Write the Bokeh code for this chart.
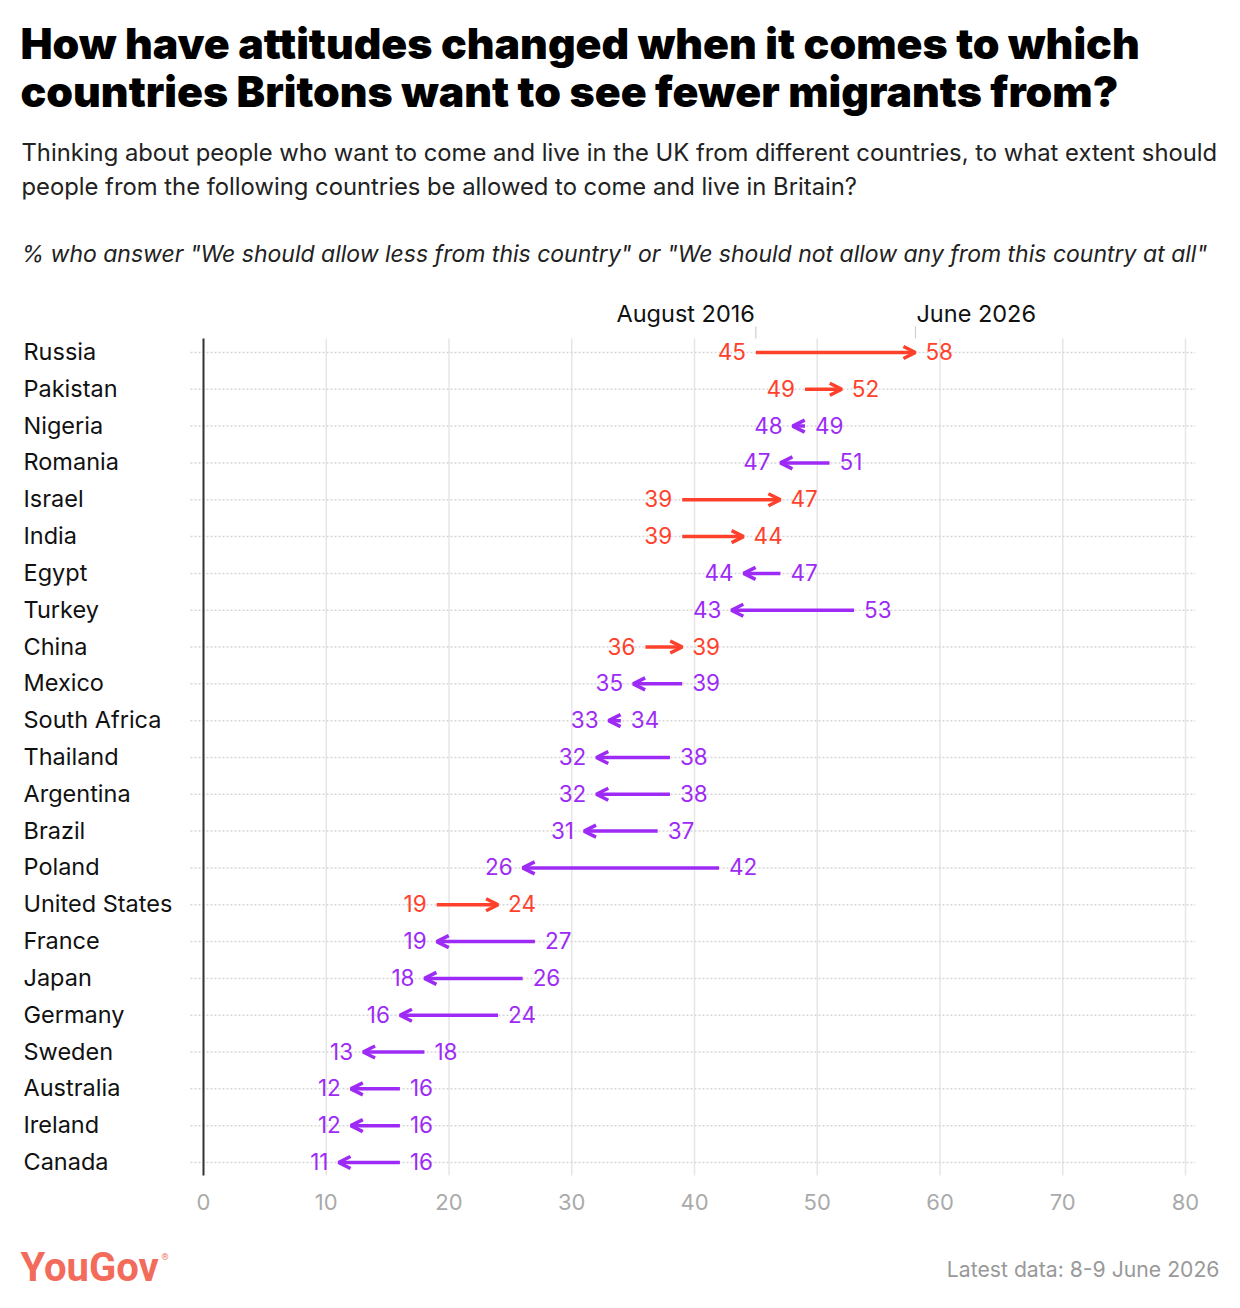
from bokeh.plotting import figure
from bokeh.models import ColumnDataSource, Arrow, OpenHead, LabelSet, Label, BoxAnnotation, Range1d
from bokeh.core.properties import value
from bokeh.embed import file_html
from bokeh.resources import INLINE

# data
countries = ["Russia", "Pakistan", "Nigeria", "Romania", "Israel", "India", "Egypt", "Turkey",
             "China", "Mexico", "South Africa", "Thailand", "Argentina", "Brazil", "Poland",
             "United States", "France", "Japan", "Germany", "Sweden", "Australia", "Ireland", "Canada"]
aug_2016 = [45, 49, 49, 51, 39, 39, 47, 53, 36, 39, 34, 38, 38, 37, 42, 19, 27, 26, 24, 18, 16, 16, 16]
jun_2026 = [58, 52, 48, 47, 47, 44, 44, 43, 39, 35, 33, 32, 32, 31, 26, 24, 19, 18, 16, 13, 12, 12, 11]
x_ticks = [0, 10, 20, 30, 40, 50, 60, 70, 80]

RED = "#ff412c"
PURPLE = "#9d2bf5"
FONT = "Inter"
W, H = 1240, 1308

n = len(countries)
rows = [n - 1 - i for i in range(n)]
y_lo, y_hi = min(rows) - 0.35, max(rows) + 0.38
x_lo, x_hi = -1.06, max(x_ticks) + 0.81

up = {"start": [], "end": [], "y": []}
down = {"start": [], "end": [], "y": []}
labels = {"y": [], "lo": [], "hi": [], "lo_txt": [], "hi_txt": [], "color": []}
for y, a, b in zip(rows, aug_2016, jun_2026):
    d = up if b > a else down
    d["start"].append(a)
    d["end"].append(b)
    d["y"].append(y)
    labels["y"].append(y)
    labels["lo"].append(min(a, b))
    labels["hi"].append(max(a, b))
    labels["lo_txt"].append(str(min(a, b)))
    labels["hi_txt"].append(str(max(a, b)))
    labels["color"].append(RED if b > a else PURPLE)

# the frame is the whole canvas: 0 sits at 203px, 10 units = 122.75px, rows 36.82px apart
px_x, px_y = 12.275, 36.82
p = figure(width=W, height=H, output_backend="svg", toolbar_location=None,
           x_range=Range1d(-203 / px_x, (W - 203) / px_x),
           y_range=Range1d(-(H - 1162) / px_y, 1162 / px_y),
           min_border=0, x_axis_location=None, y_axis_location=None)
p.outline_line_color = None
p.background_fill_color = "white"
p.grid.visible = False

# grid: vertical lines at the ticks, dotted line per country, black zero line
p.segment(x0=x_ticks[1:], x1=x_ticks[1:], y0=y_lo, y1=y_hi, line_color="#e6e6e6", line_width=1.5)
p.segment(x0=x_lo, x1=x_hi, y0=rows, y1=rows, line_color="#d6d6d6", line_width=1.5, line_dash="2 2")
p.segment(x0=0, x1=0, y0=y_lo, y1=y_hi, line_color="#333333", line_width=2)

# arrows
for d, col in ((up, RED), (down, PURPLE)):
    src = ColumnDataSource(d)
    p.add_layout(Arrow(x_start="start", y_start="y", x_end="end", y_end="y", source=src,
                       line_color=col, line_width=3.5,
                       end=OpenHead(size=12, line_color=col, line_width=3.5)))

lsrc = ColumnDataSource(labels)
p.add_layout(LabelSet(x="lo", y="y", text="lo_txt", source=lsrc, text_color="color",
                      text_align="right", text_baseline="middle", x_offset=-10, y_offset=1,
                      text_font=value(FONT), text_font_size="22.5px"))
p.add_layout(LabelSet(x="hi", y="y", text="hi_txt", source=lsrc, text_color="color",
                      text_align="left", text_baseline="middle", x_offset=10, y_offset=1,
                      text_font=value(FONT), text_font_size="22.5px"))

# country names and x tick labels
csrc = ColumnDataSource({"y": rows, "name": countries})
p.add_layout(LabelSet(x=23, x_units="screen", y="y", text="name", source=csrc, y_offset=1,
                      text_align="left", text_baseline="middle", text_color="#111111",
                      text_font=value(FONT), text_font_size="23.5px"))
tsrc = ColumnDataSource({"x": x_ticks, "t": [str(t) for t in x_ticks]})
p.add_layout(LabelSet(x="x", y=H - 1201, y_units="screen", text="t", source=tsrc,
                      text_align="center", text_baseline="middle", text_color="#aaaaaa",
                      text_font=value(FONT), text_font_size="22px"))

# series markers above Russia
p.add_layout(Label(x=aug_2016[0], y=H - 313, y_units="screen", text="August 2016", text_align="right",
                   text_baseline="middle", x_offset=-1, text_font=FONT, text_font_size="23.5px",
                   text_color="#111111"))
p.add_layout(Label(x=jun_2026[0], y=H - 313, y_units="screen", text="June 2026", text_align="left",
                   text_baseline="middle", x_offset=1, text_font=FONT, text_font_size="23.5px",
                   text_color="#111111"))
for v in (aug_2016[0], jun_2026[0]):
    p.add_layout(BoxAnnotation(left=v, right=v, bottom=H - 338, top=H - 326, bottom_units="screen",
                               top_units="screen", fill_alpha=0, line_color="#999999", line_width=1))


def txt(x, y, s, size, color="#111111", style="normal", align="left", font=FONT):
    p.add_layout(Label(x=x, y=H - y, x_units="screen", y_units="screen", text=s, text_font=font,
                       text_font_size=size, text_color=color, text_font_style=style,
                       text_align=align, text_baseline="middle"))


TITLE_FONT = "'Inter Black', 'Inter ExtraBold', Inter"
txt(20, 43, "How have attitudes changed when it comes to which", "42.8px", "#000000", "bold", font=TITLE_FONT)
txt(20, 91, "countries Britons want to see fewer migrants from?", "42.8px", "#000000", "bold", font=TITLE_FONT)
txt(21, 152, "Thinking about people who want to come and live in the UK from different countries, to what extent should", "23.8px", "#222222")
txt(21, 186, "people from the following countries be allowed to come and live in Britain?", "23.8px", "#222222")
txt(21, 253, "% who answer \"We should allow less from this country\" or \"We should not allow any from this country at all\"", "23px", "#222222", "italic")
txt(1219, 1268, "Latest data: 8-9 June 2026", "21.2px", "#999999", align="right")
txt(20, 1267, "YouGov", "40px", "#f26b5b", "bold", font="Roboto")
txt(161, 1256, "®", "9px", "#f26b5b", font="Roboto")

open("out.html", "w").write(file_html(p, INLINE))
